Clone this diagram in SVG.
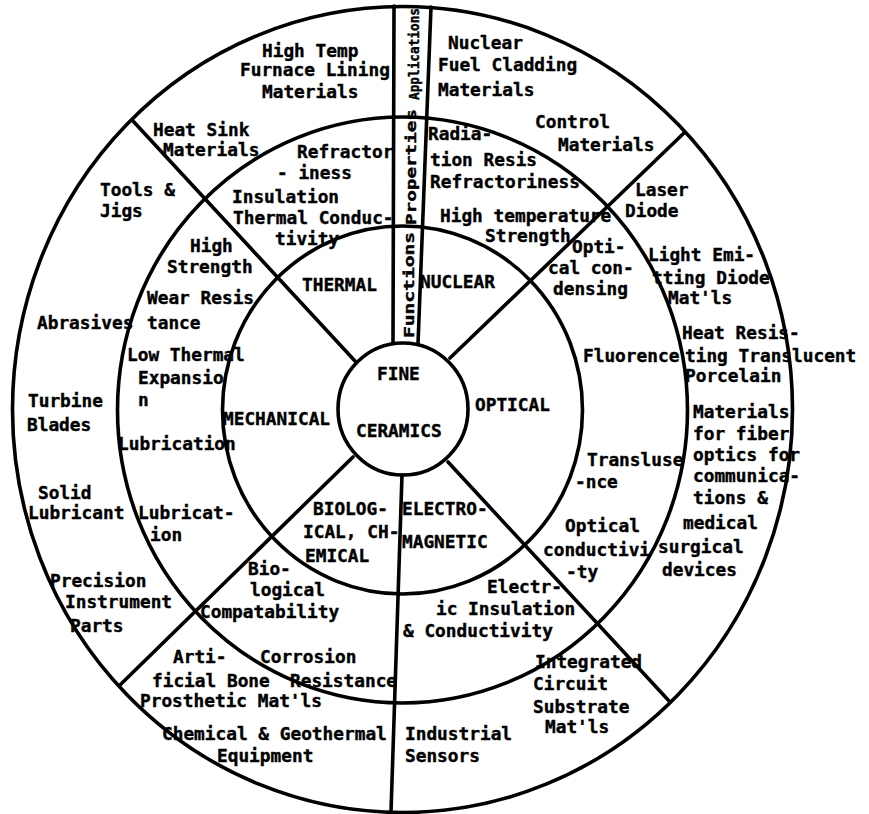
<svg xmlns="http://www.w3.org/2000/svg" width="869" height="814" viewBox="0 0 869 814">
<style>
.ln{fill:none;stroke:#000;stroke-width:3.6;stroke-linecap:round}
text{font-family:"DejaVu Sans Mono","Liberation Mono",monospace;font-weight:bold;font-size:17.8px;fill:#000;stroke:#000;stroke-width:0.4}
.bar{font-size:14px}
</style>
<rect width="869" height="814" fill="#fff"/>
<g id="connectors">
<ellipse class="ln" cx="402.5" cy="409.5" rx="390" ry="403"/>
<ellipse class="ln" cx="402.5" cy="410" rx="285" ry="293"/>
<ellipse class="ln" cx="402.5" cy="410" rx="180" ry="184"/>
<line class="ln" x1="355" y1="361" x2="133" y2="121"/>
<line class="ln" x1="450" y1="358" x2="684" y2="133"/>
<line class="ln" x1="448" y1="462" x2="670" y2="702"/>
<line class="ln" x1="353" y1="457" x2="120" y2="685"/>
<line class="ln" x1="402" y1="475" x2="391" y2="812"/>
<line class="ln" x1="394" y1="6" x2="393" y2="343"/>
<line class="ln" x1="431" y1="7" x2="418" y2="344"/>
</g>
<g id="center">
<ellipse class="ln" cx="403" cy="409" rx="65" ry="66" fill="#fff"/>
<text x="377" y="380">FINE</text>
<text x="356" y="437">CERAMICS</text>
</g>
<g id="bar">
<text class="bar" transform="translate(414,338) rotate(-90)" textLength="106" lengthAdjust="spacingAndGlyphs">Functions</text>
<text class="bar" transform="translate(416,225) rotate(-90)" textLength="116" lengthAdjust="spacingAndGlyphs">Properties</text>
<text class="bar" transform="translate(419,100) rotate(-90)" textLength="92" lengthAdjust="spacingAndGlyphs">Applications</text>
</g>
<g id="thermal">
<text x="302" y="291">THERMAL</text>
<text x="297" y="158">Refractor</text>
<text x="277" y="179">- iness</text>
<text x="232" y="203">Insulation</text>
<text x="233" y="224">Thermal Conduc-</text>
<text x="275" y="245">tivity</text>
<text x="262" y="57">High Temp</text>
<text x="240" y="76">Furnace Lining</text>
<text x="262" y="98">Materials</text>
<text x="153" y="136">Heat Sink</text>
<text x="163" y="156">Materials</text>
</g>
<g id="nuclear">
<text x="420" y="288">NUCLEAR</text>
<text x="428" y="140">Radia-</text>
<text x="430" y="166">tion Resis</text>
<text x="430" y="188">Refractoriness</text>
<text x="440" y="222">High temperature</text>
<text x="485" y="242">Strength</text>
<text x="448" y="49">Nuclear</text>
<text x="438" y="71">Fuel Cladding</text>
<text x="438" y="96">Materials</text>
<text x="535" y="128">Control</text>
<text x="558" y="151">Materials</text>
</g>
<g id="optical">
<text x="475" y="411">OPTICAL</text>
<text x="572" y="253">Opti-</text>
<text x="548" y="274">cal con-</text>
<text x="553" y="295">densing</text>
<text x="583" y="362">Fluorence</text>
<text x="587" y="466">Transluse</text>
<text x="575" y="488">-nce</text>
<text x="565" y="532">Optical</text>
<text x="543" y="556">conductivi</text>
<text x="566" y="578">-ty</text>
<text x="635" y="196">Laser</text>
<text x="625" y="217">Diode</text>
<text x="648" y="261">Light Emi-</text>
<text x="652" y="284">tting Diode</text>
<text x="668" y="304">Mat'ls</text>
<text x="682" y="339">Heat Resis-</text>
<text x="685" y="362">ting Translucent</text>
<text x="685" y="382">Porcelain</text>
<text x="693" y="418">Materials</text>
<text x="693" y="440">for fiber</text>
<text x="693" y="461">optics for</text>
<text x="693" y="482">communica-</text>
<text x="693" y="504">tions &amp;</text>
<text x="683" y="529">medical</text>
<text x="658" y="553">surgical</text>
<text x="662" y="576">devices</text>
</g>
<g id="electromagnetic">
<text x="402" y="515">ELECTRO-</text>
<text x="402" y="548">MAGNETIC</text>
<text x="487" y="593">Electr-</text>
<text x="436" y="615">ic Insulation</text>
<text x="403" y="637">&amp; Conductivity</text>
<text x="535" y="668">Integrated</text>
<text x="533" y="690">Circuit</text>
<text x="533" y="713">Substrate</text>
<text x="545" y="733">Mat'ls</text>
<text x="405" y="740">Industrial</text>
<text x="405" y="762">Sensors</text>
</g>
<g id="biological">
<text x="313" y="515">BIOLOG-</text>
<text x="303" y="538">ICAL, CH-</text>
<text x="305" y="562">EMICAL</text>
<text x="248" y="575">Bio-</text>
<text x="250" y="596">logical</text>
<text x="200" y="618">Compatability</text>
<text x="260" y="663">Corrosion</text>
<text x="290" y="687">Resistance</text>
<text x="173" y="663">Arti-</text>
<text x="152" y="687">ficial Bone</text>
<text x="140" y="707">Prosthetic Mat'ls</text>
<text x="162" y="740">Chemical &amp; Geothermal</text>
<text x="217" y="762">Equipment</text>
</g>
<g id="mechanical">
<text x="223" y="425">MECHANICAL</text>
<text x="190" y="252">High</text>
<text x="167" y="273">Strength</text>
<text x="147" y="304">Wear Resis</text>
<text x="147" y="329">tance</text>
<text x="127" y="361">Low Thermal</text>
<text x="138" y="384">Expansio</text>
<text x="138" y="406">n</text>
<text x="118" y="450">Lubrication</text>
<text x="138" y="519">Lubricat-</text>
<text x="150" y="541">ion</text>
<text x="100" y="196">Tools &amp;</text>
<text x="100" y="217">Jigs</text>
<text x="37" y="329">Abrasives</text>
<text x="28" y="407">Turbine</text>
<text x="27" y="431">Blades</text>
<text x="38" y="499">Solid</text>
<text x="28" y="519">Lubricant</text>
<text x="50" y="587">Precision</text>
<text x="65" y="608">Instrument</text>
<text x="70" y="632">Parts</text>
</g>
</svg>
